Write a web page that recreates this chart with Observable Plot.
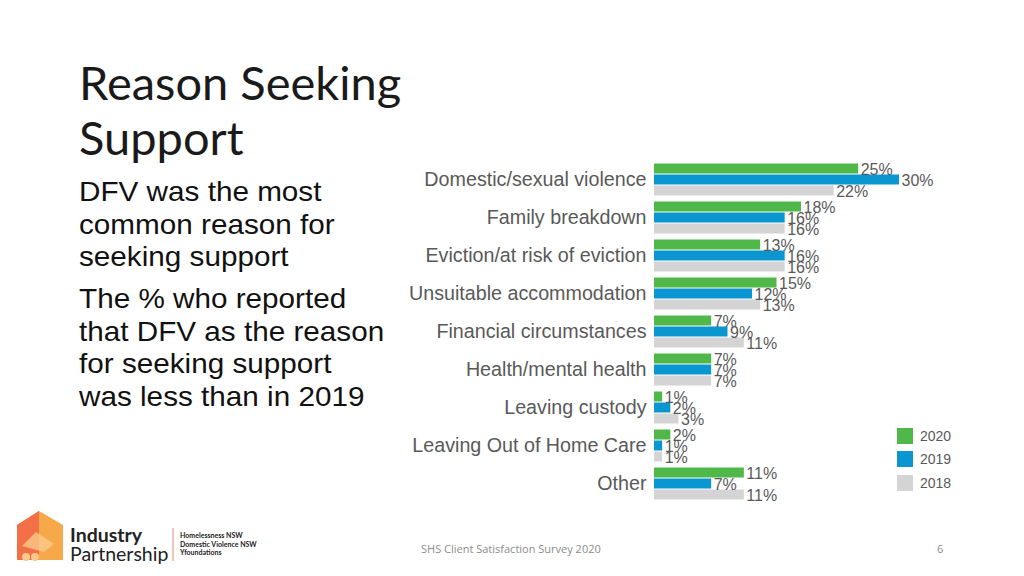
<!DOCTYPE html>
<html>
<head>
<meta charset="utf-8">
<script src="https://cdn.jsdelivr.net/npm/d3@7"></script>
<script src="https://cdn.jsdelivr.net/npm/@observablehq/plot@0.6"></script>
<style>
  html, body { margin: 0; padding: 0; background: #fff; }
  body { width: 1024px; height: 576px; position: relative; overflow: hidden; font-family: "Liberation Sans", Arial, sans-serif; }
  #title { position: absolute; left: 79px; top: 55px; font-family: Lato, "Open Sans", sans-serif; font-size: 47px; line-height: 55px; color: #1a1a1a; font-weight: 400; }
  .para { position: absolute; left: 79px; font-size: 28px; line-height: 32.5px; color: #111; transform-origin: left top; transform: scaleX(1.06); white-space: nowrap; }
  #chart { position: absolute; left: 400px; top: 157px; }
  #legend { position: absolute; left: 897px; top: 424px; font-size: 14px; color: #595959; }
  #legend .item { display: flex; align-items: center; height: 23.5px; }
  #legend .sw { width: 16px; height: 16px; margin-right: 7px; }
  #footer { position: absolute; left: 421px; top: 541px; font-family: "Open Sans", Lato, sans-serif; font-size: 11px; color: #8c8c8c; }
  #page { position: absolute; left: 937px; top: 541px; font-family: "Open Sans", Lato, sans-serif; font-size: 11px; color: #8c8c8c; }
  #logo { position: absolute; left: 14px; top: 508px; }
</style>
</head>
<body>
<div id="title">Reason Seeking<br>Support</div>
<div class="para" style="top:176px">DFV was the most<br>common reason for<br>seeking support</div>
<div class="para" style="top:283px">The % who reported<br>that DFV as the reason<br>for seeking support<br>was less than in 2019</div>
<div id="chart"></div>
<div id="legend"></div>
<div id="footer">SHS Client Satisfaction Survey 2020</div>
<div id="page">6</div>
<div id="logo">
<svg width="260" height="60" xmlns="http://www.w3.org/2000/svg">
  <path d="M3 17 L25 3 L49 17 L49 52 L3 52 Z" fill="#f7a94a"/>
  <path d="M3 17 L25 3 L25 52 L3 52 Z" fill="#f26f47"/>
  <path d="M8 38 L22 24 L40 36 L30 44 Z" fill="#fbc98a" opacity="0.8"/>
  <circle cx="12" cy="49" r="4" fill="#fbc98a"/><circle cx="21" cy="49" r="4" fill="#fbc98a"/>
  <text x="56" y="34" font-family="Lato, sans-serif" font-weight="700" font-size="19.5" fill="#222">Industry</text>
  <text x="56" y="53" font-family="Lato, sans-serif" font-size="19.5" fill="#222">Partnership</text>
  <line x1="159" y1="20" x2="159" y2="53" stroke="#e8a08a" stroke-width="1.2"/>
  <text x="166" y="30" font-family="Lato, sans-serif" font-weight="700" font-size="7" fill="#222">Homelessness NSW</text>
  <text x="166" y="39" font-family="Lato, sans-serif" font-weight="700" font-size="7" fill="#222">Domestic Violence NSW</text>
  <text x="166" y="47" font-family="Lato, sans-serif" font-weight="700" font-size="7" fill="#222">Yfoundations</text>
</svg>
</div>
<script>
const categories = [
  "Domestic/sexual violence",
  "Family breakdown",
  "Eviction/at risk of eviction",
  "Unsuitable accommodation",
  "Financial circumstances",
  "Health/mental health",
  "Leaving custody",
  "Leaving Out of Home Care",
  "Other"
];
const series = ["2020", "2019", "2018"];
const v2020 = [25, 18, 13, 15, 7, 7, 1, 2, 11];
const v2019 = [30, 16, 16, 12, 9, 7, 2, 1, 7];
const v2018 = [22, 16, 16, 13, 11, 7, 3, 1, 11];
const colors = ["#4fb848", "#0a96d0", "#d4d4d4"];

const valuesBySeries = {"2020": v2020, "2019": v2019, "2018": v2018};
const rows = categories.flatMap((c, i) =>
  series.map(s => ({category: c, series: s, value: valuesBySeries[s][i]}))
);

const chart = Plot.plot({
  width: 560,
  height: 348,
  marginLeft: 254,
  marginRight: 61,
  marginTop: 5,
  marginBottom: 5,
  style: {fontFamily: "Liberation Sans, Arial, sans-serif", fontSize: "19.7px", color: "#595959", background: "transparent"},
  facet: {data: rows, y: "category", label: null},
  fy: {domain: categories, paddingInner: 0.11, paddingOuter: 0, axis: "left", tickSize: 0, tickPadding: 8, label: null},
  y: {domain: series, axis: null, paddingInner: 0, paddingOuter: 0},
  x: {domain: [0, 30], axis: null},
  color: {domain: series, range: colors},
  marks: [
    Plot.barX(rows, {x: "value", y: "series", fill: "series", insetTop: 0.5, insetBottom: 0.5}),
    Plot.text(rows, {x: "value", y: "series", text: d => d.value + "%", dx: 2, dy: 1, textAnchor: "start", fontSize: 16, fill: "#595959"})
  ]
});
document.getElementById("chart").appendChild(chart);

const legend = document.getElementById("legend");
series.forEach((s, i) => {
  const item = document.createElement("div");
  item.className = "item";
  item.innerHTML = `<span class="sw" style="background:${colors[i]}"></span><span>${s}</span>`;
  legend.appendChild(item);
});
</script>
</body>
</html>
